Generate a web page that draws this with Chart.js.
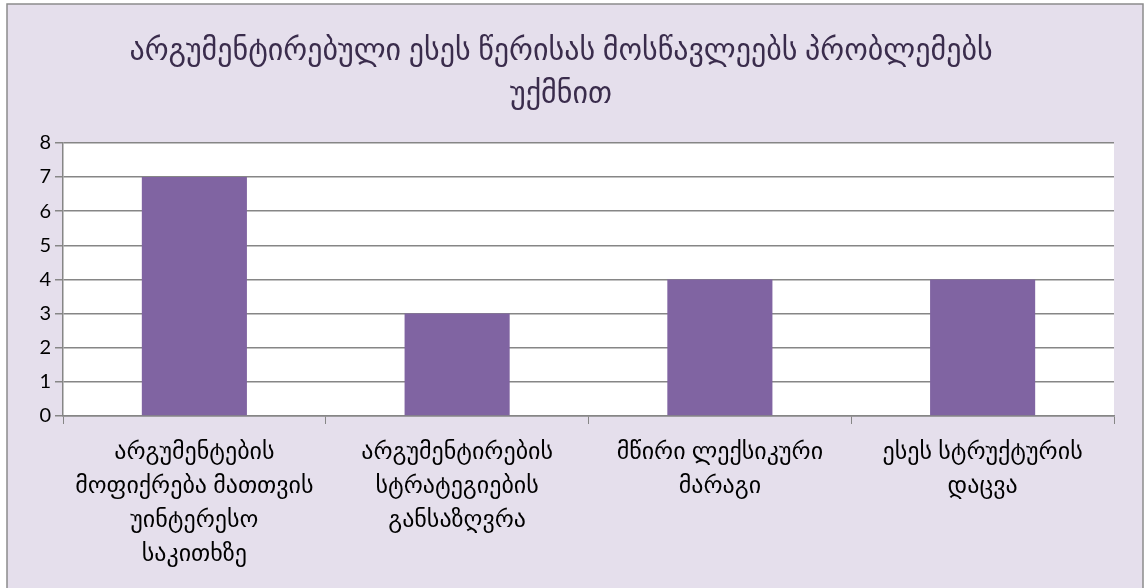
<!DOCTYPE html>
<html>
<head>
<meta charset="utf-8">
<script src="https://cdn.jsdelivr.net/npm/chart.js@4.4.1/dist/chart.umd.min.js"></script>
<style>
    html, body { margin: 0; padding: 0; background: #ffffff; }
    #wrap { width: 1145px; height: 588px; }
</style>
</head>
<body>
<div id="wrap"><canvas id="problems" width="1145" height="588"></canvas></div>
<script>
// data
const titleLines = ["არგუმენტირებული ესეს წერისას მოსწავლეებს პრობლემებს", "უქმნით"];
const categories = [
    ["არგუმენტების", "მოფიქრება მათთვის", "უინტერესო", "საკითხზე"],
    ["არგუმენტირების", "სტრატეგიების", "განსაზღვრა"],
    ["მწირი ლექსიკური", "მარაგი"],
    ["ესეს სტრუქტურის", "დაცვა"]
];
const values = [7, 3, 4, 4];
const yTicks = [0, 1, 2, 3, 4, 5, 6, 7, 8];

const fontFamily = "Lato, 'DejaVu Sans', sans-serif";
const gridGray = '#868686';

// background + white plot area
const backdrop = {
    id: 'backdrop',
    beforeDraw(chart) {
        const ctx = chart.ctx;
        const a = chart.chartArea;
        ctx.save();
        ctx.fillStyle = '#ffffff';
        ctx.fillRect(0, 0, chart.width, chart.height);
        ctx.fillStyle = '#E5DFEC';
        ctx.fillRect(7, 4, chart.width - 9, chart.height - 4);
        ctx.strokeStyle = '#8c8c8c';
        ctx.lineWidth = 1.5;
        ctx.strokeRect(7, 4, chart.width - 9, chart.height);
        ctx.fillStyle = '#ffffff';
        ctx.fillRect(a.left, a.top, a.right - a.left, a.bottom - a.top);
        ctx.restore();
    }
};

let ctx = document.getElementById('problems').getContext('2d');
new Chart(ctx, {
    type: 'bar',
    data: {
        labels: categories,
        datasets: [{
            data: values,
            backgroundColor: '#8064A2',
            borderWidth: 0,
            barPercentage: 0.4,
            categoryPercentage: 1.0
        }]
    },
    options: {
        responsive: false,
        animation: false,
        layout: { padding: { top: 5, left: 8, right: 31, bottom: 0 } },
        plugins: {
            legend: { display: false },
            tooltip: { enabled: false },
            title: {
                display: true,
                text: titleLines,
                color: '#3a2c4c',
                font: { family: fontFamily, size: 30, weight: 'normal', lineHeight: 1.43 },
                padding: { top: 24, bottom: 28 }
            }
        },
        scales: {
            x: {
                grid: {
                    offset: true,
                    drawOnChartArea: false,
                    drawTicks: true,
                    tickLength: 8,
                    color: gridGray
                },
                border: { display: true, color: gridGray, width: 1.5 },
                ticks: {
                    color: '#000000',
                    maxRotation: 0,
                    autoSkip: false,
                    padding: 10,
                    font: { family: fontFamily, size: 24, lineHeight: 1.42 }
                },
                afterFit(scale) { scale.height = 172; }
            },
            y: {
                min: 0,
                max: 8,
                afterBuildTicks(scale) { scale.ticks = yTicks.map(v => ({ value: v })); },
                grid: { color: gridGray, lineWidth: 1.5, tickLength: 8 },
                border: { display: true, color: gridGray, width: 1.5 },
                ticks: {
                    color: '#000000',
                    padding: 4,
                    font: { family: fontFamily, size: 20 }
                },
                afterFit(scale) { scale.width = 55; }
            }
        }
    },
    plugins: [backdrop]
});
</script>
</body>
</html>
